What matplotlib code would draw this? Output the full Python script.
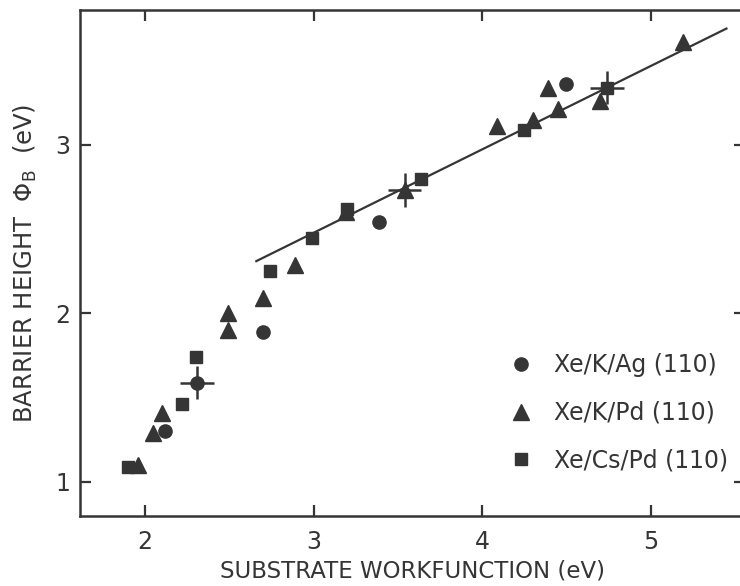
import matplotlib
matplotlib.use("Agg")
import matplotlib.pyplot as plt
from matplotlib import font_manager

# data (eV)
ag_x = [2.12, 2.70, 3.39, 4.50, 2.31]
ag_y = [1.30, 1.89, 2.54, 3.36, 1.59]

kpd_x = [1.96, 2.05, 2.10, 2.49, 2.49, 2.70, 2.89, 3.19, 3.54, 4.09, 4.30, 4.39, 4.45, 4.70, 5.19]
kpd_y = [1.10, 1.29, 1.41, 1.90, 2.00, 2.09, 2.29, 2.60, 2.73, 3.11, 3.15, 3.34, 3.21, 3.26, 3.61]

cs_x = [1.90, 2.22, 2.30, 2.74, 2.99, 3.20, 3.64, 4.25, 4.74]
cs_y = [1.09, 1.46, 1.74, 2.25, 2.45, 2.62, 2.80, 3.09, 3.34]

# representative error crosses
err_x = [2.31, 3.54, 4.74]
err_y = [1.59, 2.73, 3.34]
err_dx = [0.10, 0.10, 0.10]
err_dy = [0.10, 0.10, 0.10]

# straight fit line
fit_x = [2.66, 5.45]
fit_y = [2.31, 3.69]

labels = ["Xe/K/Ag (110)", "Xe/K/Pd (110)", "Xe/Cs/Pd (110)"]

names = {f.name for f in font_manager.fontManager.ttflist}
fam = "Liberation Sans Narrow" if "Liberation Sans Narrow" in names else "DejaVu Sans"
plt.rcParams["font.family"] = [fam, "DejaVu Sans"]
plt.rcParams["mathtext.fontset"] = "dejavusans"

ink = "#353535"
fig = plt.figure(figsize=(7.4, 5.86), dpi=100)
ax = fig.add_axes([80 / 740, 70 / 586, 665 / 740, 506 / 586])

ax.plot(fit_x, fit_y, color=ink, lw=1.6, zorder=2)
ax.errorbar(err_x, err_y, xerr=err_dx, yerr=err_dy, fmt="none",
            ecolor=ink, elinewidth=1.8, capsize=0, zorder=3)

ax.plot(ag_x, ag_y, "o", ms=9.5, color=ink, mec=ink, label=labels[0], zorder=4)
ax.plot(kpd_x, kpd_y, "^", ms=11, color=ink, mec=ink, label=labels[1], zorder=4)
ax.plot(cs_x, cs_y, "s", ms=9, color=ink, mec=ink, label=labels[2], zorder=4)

ax.set_xlim(1.614, 5.56)
ax.set_ylim(0.798, 3.80)
ax.set_xticks([2, 3, 4, 5])
ax.set_yticks([1, 2, 3])
ax.tick_params(direction="in", length=8, width=1.6, color=ink,
               top=True, right=True, labelsize=17, labelcolor=ink)
ax.tick_params(axis="x", pad=10)
ax.tick_params(axis="y", pad=7)
for s in ax.spines.values():
    s.set_linewidth(1.8)
    s.set_color(ink)

ax.set_xlabel("SUBSTRATE WORKFUNCTION (eV)", fontsize=16.5, color=ink, labelpad=4)
ax.set_ylabel(r"BARRIER HEIGHT  $\Phi_\mathregular{B}$  (eV)", fontsize=17.5,
              color=ink, labelpad=12)

ax.legend(loc="upper left", bbox_to_anchor=(0.628, 0.345), frameon=False,
          fontsize=17, handlelength=1.0, handletextpad=0.9, labelspacing=1.0,
          borderpad=0, labelcolor=ink)

fig.savefig("out.png", dpi=100)
